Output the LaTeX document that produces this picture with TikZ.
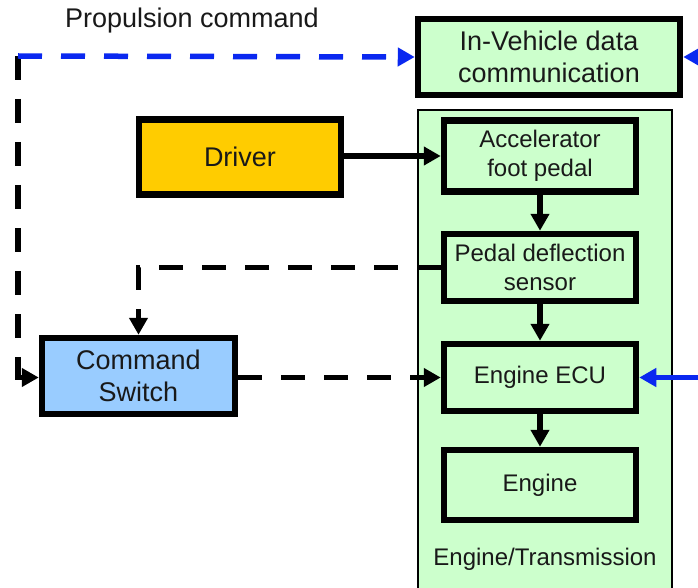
\documentclass[tikz,border=0pt]{standalone}
\usepackage{fontspec}
\setmainfont{Liberation Sans}
\usetikzlibrary{arrows.meta}
\definecolor{boxgreen}{RGB}{204,255,204}
\definecolor{drvorange}{RGB}{255,204,0}
\definecolor{cmdblue}{RGB}{153,204,255}
\definecolor{busblue}{RGB}{10,40,240}
\definecolor{txt}{RGB}{25,25,25}
\tikzset{
  bigtext/.style={font=\fontsize{27}{32}\selectfont, text=txt, align=center},
  smalltext/.style={font=\fontsize{24}{29}\selectfont, text=txt, align=center},
  block/.style={draw=black, line width=6.5pt, inner sep=0pt},
  flow/.style={line width=5.5pt, -{Triangle[length=17pt,width=18pt]}},
  cmdflow/.style={flow, dash pattern=on 24pt off 19pt},
  busflow/.style={line width=5.5pt, draw=busblue, -{Triangle[length=17pt,width=18pt]}},
}
\begin{document}
\begin{tikzpicture}[x=1pt,y=-1pt]
\useasboundingbox (0,0) rectangle (698,588);
\clip (0,0) rectangle (698,588);
\fill[white] (0,0) rectangle (698,588);

% Engine/Transmission enclosure
\node (et) [draw=black, line width=2pt, fill=boxgreen, minimum width=254pt,
  minimum height=500pt, inner sep=0pt] at (545,360) {};
\node (etlabel) [smalltext] at (545,559) {Engine/Transmission};

% blocks
\node (inveh) [block, fill=boxgreen, bigtext, minimum width=262pt, minimum height=76pt]
  at (549,57) {In-Vehicle data\\communication};
\node (accel) [block, fill=boxgreen, smalltext, minimum width=192pt, minimum height=71pt]
  at (540,156) {Accelerator\\foot pedal};
\node (sensor) [block, fill=boxgreen, smalltext, minimum width=192pt, minimum height=67pt]
  at (540,267.5) {Pedal deflection\\sensor};
\node (ecu) [block, fill=boxgreen, smalltext, minimum width=192pt, minimum height=67pt]
  at (540,377.5) {Engine ECU};
\node (engine) [block, fill=boxgreen, smalltext, minimum width=192pt, minimum height=70pt]
  at (540,485) {Engine};
\node (driver) [block, fill=drvorange, bigtext, minimum width=202pt, minimum height=75pt]
  at (240,157) {Driver};
\node (cmd) [block, fill=cmdblue, bigtext, minimum width=193pt, minimum height=76pt]
  at (138.5,376) {Command\\Switch};

\node (proptext) [bigtext, anchor=base] at (192,28) {Propulsion command};

% helper points
\coordinate (corner) at (18,56);
\coordinate (sensturn) at (cmd.north |- sensor.west);
\coordinate (busin) at (720,57);
\coordinate (ecuin) at (720,377.5);

% solid signal flow
\draw[flow] (driver.east |- accel.west) -- (accel.west);
\draw[flow] (accel.south) -- (sensor.north);
\draw[flow] (sensor.south) -- (ecu.north);
\draw[flow] (ecu.south) -- (engine.north);

% command paths
\draw[cmdflow] (sensor.west) -- (sensturn) -- (cmd.north);
\draw[cmdflow] (cmd.east |- ecu.west) -- (ecu.west);
\draw[cmdflow] (corner) -- (corner |- ecu.west) -- (cmd.west |- ecu.west);
\draw[busflow, dash pattern=on 24pt off 19pt] (corner) -- (inveh.west);

% network links entering from the right
\draw[busflow] (busin) -- (inveh.east);
\draw[busflow] (ecuin) -- (ecu.east);
\end{tikzpicture}
\end{document}
